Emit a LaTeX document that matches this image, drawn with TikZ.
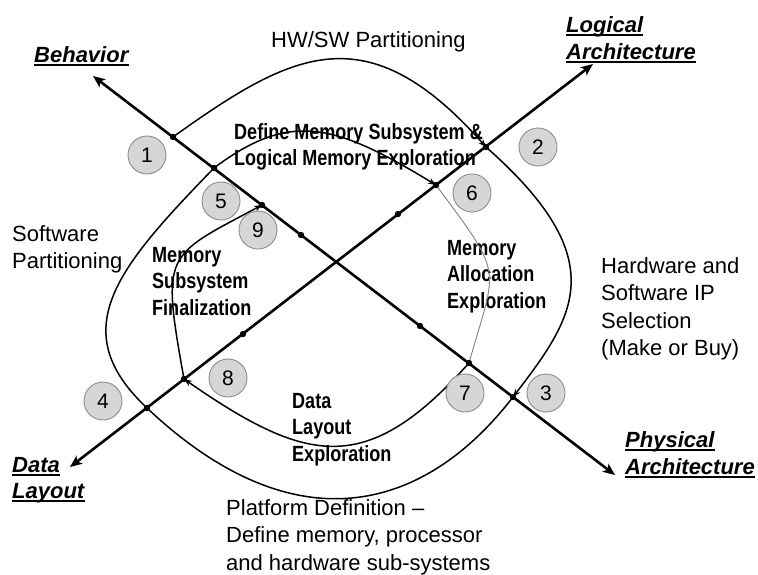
\documentclass[tikz,border=0pt]{standalone}
\usepackage{fontspec}
\setmainfont{Liberation Sans}
\newfontfamily\narrowsans[FakeStretch=0.82]{Liberation Sans}
\usepackage{tikz}
\usetikzlibrary{arrows.meta}
\definecolor{bubbleFill}{gray}{0.84}
\definecolor{bubbleLine}{gray}{0.55}
\definecolor{faintLine}{gray}{0.5}
\tikzset{
	axisline/.style={line width=2.6pt, {Stealth[length=12pt,width=10pt,inset=3pt]}-{Stealth[length=12pt,width=10pt,inset=3pt]}},
	flowline/.style={line width=1.5pt},
	flowarrow/.style={flowline, -{Stealth[length=8pt,width=6pt]}},
	bubble/.style={circle, minimum size=38pt, inner sep=0pt, fill=bubbleFill, draw=bubbleLine, line width=0.9pt, font=\fontsize{21}{21}\selectfont},
	plaintext/.style={anchor=north west, inner sep=0pt, align=left, font=\fontsize{22}{27.5}\selectfont},
	steptext/.style={plaintext, font=\narrowsans\bfseries\fontsize{22}{26.5}\selectfont},
	viewtext/.style={anchor=base west, inner sep=0pt, font=\bfseries\itshape\fontsize{22}{27}\selectfont,
		append after command={([yshift=-3.3pt]\tikzlastnode.base west) edge[line width=1.8pt] ([yshift=-3.3pt]\tikzlastnode.base east)}}
}
\begin{document}
\begin{tikzpicture}[x=1pt, y=-1pt]
	\useasboundingbox (0,0) rectangle (758,574);
	% axis tips
	\coordinate (bTip) at (93,76);
	\coordinate (pTip) at (615,475);
	\coordinate (dTip) at (70,467);
	\coordinate (lTip) at (593,64);
	% dots on the behaviour / physical axis
	\coordinate (d1) at (173,137);
	\coordinate (d5) at (214,168);
	\coordinate (d9) at (262,205);
	\coordinate (dB) at (301,235);
	\coordinate (dP) at (420,326);
	\coordinate (d7) at (469,363);
	\coordinate (d3) at (513,397);
	% dots on the data / logical axis
	\coordinate (d2) at (486,147);
	\coordinate (d6) at (436,185);
	\coordinate (dL) at (398,214);
	\coordinate (dD) at (243,334);
	\coordinate (d8) at (184,379);
	\coordinate (d4) at (147,408);

	\node[plaintext] (hwsw) at (271,31) {HW/SW Partitioning};
	\node[plaintext] (swpart) at (12,225) {Software\\Partitioning};
	\node[plaintext] (hwip) at (601,257) {Hardware and\\Software IP\\Selection\\(Make or Buy)};
	\node[plaintext] (platform) at (226,499) {Platform Definition –\\Define memory, processor\\and hardware sub-systems};
	\node[steptext] (defmem) at (234,123) {Define Memory Subsystem \&\\Logical Memory Exploration};
	\node[steptext] (finalize) at (152,247) {Memory\\Subsystem\\Finalization};
	\node[steptext] (alloc) at (447,240) {Memory\\Allocation\\Exploration};
	\node[steptext] (layout) at (292,393) {Data\\Layout\\Exploration};
	\node[viewtext] (behavior) at (34,62) {Behavior};
	\node[viewtext] (logicalA) at (566,32) {Logical};
	\node[viewtext] (logicalB) at ([yshift=-27pt]logicalA.base west) {Architecture};
	\node[viewtext] (dataA) at (12,472) {Data};
	\node[viewtext] (dataB) at ([yshift=-26pt]dataA.base west) {Layout};
	\node[viewtext] (physicalA) at (625,447) {Physical};
	\node[viewtext] (physicalB) at ([yshift=-27pt]physicalA.base west) {Architecture};

	\draw[axisline] (bTip) -- (pTip);
	\draw[axisline] (dTip) -- (lTip);
	% outer loop
	\draw[flowarrow] (d1) .. controls +(120,-86) and +(-119,-134) .. (d2);
	\draw[flowarrow] (d2) .. controls +(128,113) and +(62,-81) .. (d3);
	\draw[flowline] (d3) .. controls +(-91,118) and +(145,137) .. (d4);
	\draw[flowline] (d4) .. controls +(-83,-78) and +(-97,100) .. (d5);
	% inner loop
	\draw[flowarrow] (d5) .. controls +(76,-57) and +(-102,-62) .. (d6);
	\draw[faintLine, line width=0.9pt] (d6) .. controls +(69,93) and +(28,-99) .. (d7);
	\draw[flowarrow] (d7) .. controls +(-102,114) and +(124,86) .. (d8);
	\draw[flowarrow] (d8) .. controls +(-23,-128) and +(-97,52) .. (d9);
	\foreach \d in {d1,d2,d3,d4,d5,d6,d7,d8,d9,dB,dP,dL,dD}
		\fill (\d) circle (3.2pt);

	\node[bubble] (n1) at (147,155) {1};
	\node[bubble] (n2) at (538,147) {2};
	\node[bubble] (n3) at (546,393) {3};
	\node[bubble] (n4) at (103,401) {4};
	\node[bubble] (n5) at (221,201) {5};
	\node[bubble] (n6) at (472,193) {6};
	\node[bubble] (n7) at (465,393) {7};
	\node[bubble] (n8) at (228,378) {8};
	\node[bubble] (n9) at (258,230) {9};
\end{tikzpicture}
\end{document}
